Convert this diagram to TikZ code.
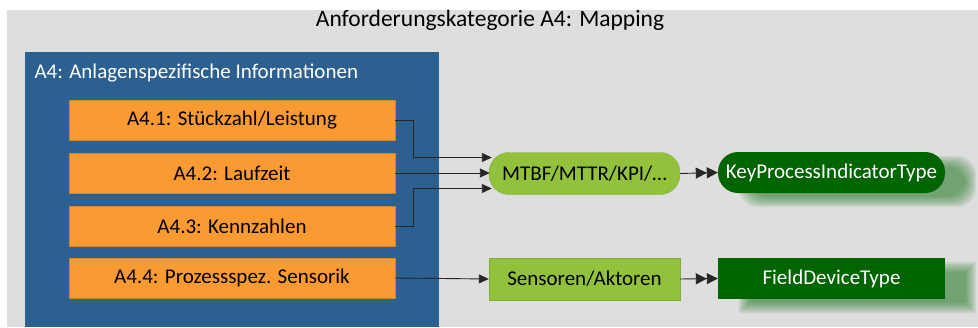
\documentclass[tikz,border=0pt]{standalone}
\usepackage{fontspec}
\setmainfont{Carlito}
\usetikzlibrary{arrows.meta,calc}

\definecolor{bggray}{HTML}{DEDEDE}
\definecolor{panelblue}{HTML}{2B6090}
\definecolor{itemorange}{HTML}{F99A32}
\definecolor{lightgreen}{HTML}{92C13C}
\definecolor{darkgreen}{HTML}{006400}

\pgfdeclarelayer{canvas}
\pgfdeclarelayer{shade}
\pgfsetlayers{canvas,shade,main}

\tikzset{
  item/.style={fill=itemorange, draw=itemorange!85!black, line width=0.4pt,
    minimum width=326pt, minimum height=40pt, inner sep=0pt,
    font=\fontsize{21}{24}\selectfont},
  concept/.style={fill=lightgreen, draw=lightgreen!90!black, line width=0.4pt,
    inner sep=0pt, minimum width=191pt, minimum height=42pt,
    font=\fontsize{21}{24}\selectfont},
  target/.style={fill=darkgreen, inner sep=0pt, minimum width=227pt,
    minimum height=41pt, text=white, font=\fontsize{21}{24}\selectfont},
  arr/.style={draw=black!85, line width=0.9pt, -{Triangle[length=10pt,width=9pt]}},
  darr/.style={draw=black!85, line width=0.9pt,
    -{Triangle[length=11pt,width=11pt]Triangle[length=11pt,width=11pt]}}
}

% soft drop shadow behind a node: stacked translucent copies
\newcommand{\softshadow}[2]{%
  \begin{pgfonlayer}{shade}
    \foreach \d in {-5,-3,-1,1,3,5}{
      \fill[darkgreen, opacity=0.1, rounded corners=#2]
        ($(#1.south west)+(26-\d,9+\d)$) rectangle ($(#1.north east)+(26+\d,9-\d)$);
    }
  \end{pgfonlayer}}

\begin{document}
\begin{tikzpicture}[x=1pt,y=-1pt]
  \useasboundingbox (0,0) rectangle (978,327);
  \begin{pgfonlayer}{canvas}
    % grey canvas and blue group panel
    \fill[bggray] (7,10) rectangle (978,327);
    \fill[panelblue] (25,52) rectangle (439,327);
  \end{pgfonlayer}

  \node[font=\fontsize{23.5}{26}\selectfont] (title) at (490,20) {Anforderungskategorie A4: Mapping};
  \node[anchor=west, text=white, font=\fontsize{21}{24}\selectfont] (grp) at (31,73)
    {A4: Anlagenspezifische Informationen};

  % requirement items
  \node[item] (b1) at (232,120) {A4.1: Stückzahl/Leistung};
  \node[item] (b2) at (232,173) {A4.2: Laufzeit};
  \node[item] (b3) at (232,226) {A4.3: Kennzahlen};
  \node[item] (b4) at (232,278) {A4.4: Prozessspez. Sensorik};

  % mapped concepts
  \node[concept, rounded corners=20pt] (m) at (584.5,173.5) {MTBF/MTTR/KPI/\dots};
  \node[concept] (s) at (584.5,279) {Sensoren/Aktoren};

  % target types
  \node[target, rounded corners=20pt] (k) at (831.5,172.5) {KeyProcessIndicatorType};
  \node[target] (f) at (831.5,278.5) {FieldDeviceType};
  \softshadow{k}{20pt}
  \softshadow{f}{2pt}

  % connectors
  \draw[arr] (b1.east) -- ++(18,0) |- ([xshift=3pt,yshift=16pt]m.west);
  \draw[arr] (b2.east) -- ([xshift=1pt]m.west |- b2.east);
  \draw[arr] (b3.east) -- ++(18,0) |- ([xshift=3pt,yshift=-15pt]m.west);
  \draw[darr] (m.east) -- (k.west);
  \draw[arr] (b4.east) -- (s.west);
  \draw[darr] (s.east) -- (f.west);
\end{tikzpicture}
\end{document}
